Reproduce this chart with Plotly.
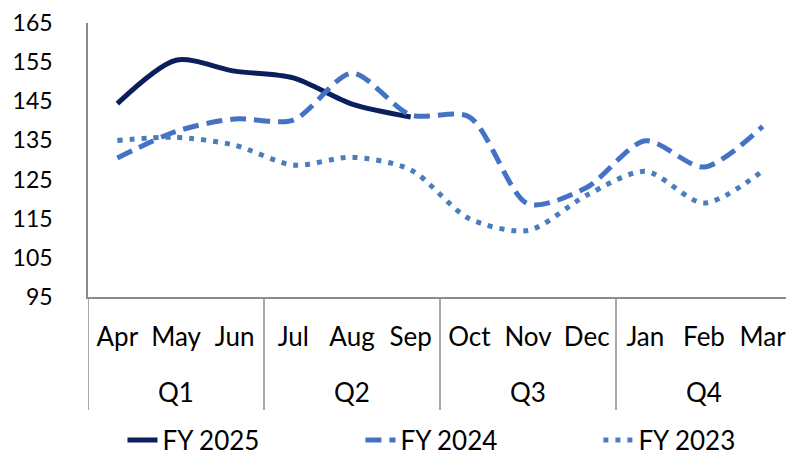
import plotly.graph_objects as go

quarters = ["Q1", "Q2", "Q3", "Q4"]
months = ["Apr", "May", "Jun", "Jul", "Aug", "Sep", "Oct", "Nov", "Dec", "Jan", "Feb", "Mar"]

fy2025 = [144.4, 155.5, 152.7, 151.0, 144.3, 141.0]
fy2024 = [130.5, 137.3, 140.5, 140.2, 152.2, 141.5, 141.0, 118.8, 123.0, 134.9, 128.2, 138.6]
fy2023 = [135.0, 135.8, 133.8, 128.7, 130.7, 127.5, 115.0, 112.0, 121.0, 127.1, 119.0, 127.2]

y_ticks = [95, 105, 115, 125, 135, 145, 155, 165]

FONT = "Lato"
FS = 26
FS_Y = 23
AXIS_GRAY = "#8c8c8c"

fig = go.Figure()
fig.add_trace(go.Scatter(
    x=months[:len(fy2025)], y=fy2025, name="FY 2025", legend="legend",
    mode="lines", line=dict(color="#0A1F5C", width=5, shape="spline", smoothing=0.8),
))
fig.add_trace(go.Scatter(
    x=months, y=fy2024, name="FY 2024", legend="legend2",
    mode="lines", line=dict(color="#4472C4", width=5, dash="16px,8px", shape="spline", smoothing=0.8),
))
fig.add_trace(go.Scatter(
    x=months, y=fy2023, name="FY 2023", legend="legend3",
    mode="lines", line=dict(color="#4A7EBB", width=5, dash="5px,7px", shape="spline", smoothing=0.8),
))

# quarter group labels and dividers on the category axis
n_per_q = 3
for qi, q in enumerate(quarters):
    mid = qi * n_per_q + 1
    fig.add_annotation(x=mid, y=-0.347, xref="x", yref="paper", text=q, showarrow=False,
                       font=dict(family=FONT, size=FS, color="black"), yanchor="middle")
for b in range(len(quarters) + 1):
    xb = b * n_per_q - 0.5
    fig.add_shape(type="line", xref="x", yref="paper", x0=xb, x1=xb, y0=0, y1=-0.412,
                  line=dict(color=AXIS_GRAY, width=1.5))

leg_common = dict(orientation="h", xanchor="left", y=-0.522, yanchor="middle",
                  font=dict(family=FONT, size=FS, color="black"), bgcolor="rgba(0,0,0,0)")

fig.update_layout(
    width=786, height=449,
    margin=dict(l=80, r=2, t=15, b=160, autoexpand=False),
    plot_bgcolor="white", paper_bgcolor="white",
    font=dict(family=FONT, size=FS, color="black"),
    showlegend=True,
    legend=dict(x=0.049, **leg_common),
    legend2=dict(x=0.387, **leg_common),
    legend3=dict(x=0.725, **leg_common),
    xaxis=dict(
        type="category", range=[-0.5, 11.5], showline=True, linecolor=AXIS_GRAY, linewidth=1.5,
        showgrid=False, ticks="", ticklabelstandoff=16, automargin=False,
        tickfont=dict(family=FONT, size=FS, color="black"),
    ),
    yaxis=dict(
        range=[95, 165], tickvals=y_ticks, showline=True, linecolor=AXIS_GRAY, linewidth=1.5,
        showgrid=False, zeroline=False, ticks="", ticklabelstandoff=29, automargin=False,
        ticklabeloverflow="allow",
        tickfont=dict(family=FONT, size=FS_Y, color="black"),
    ),
)

fig.write_html("out.html")
